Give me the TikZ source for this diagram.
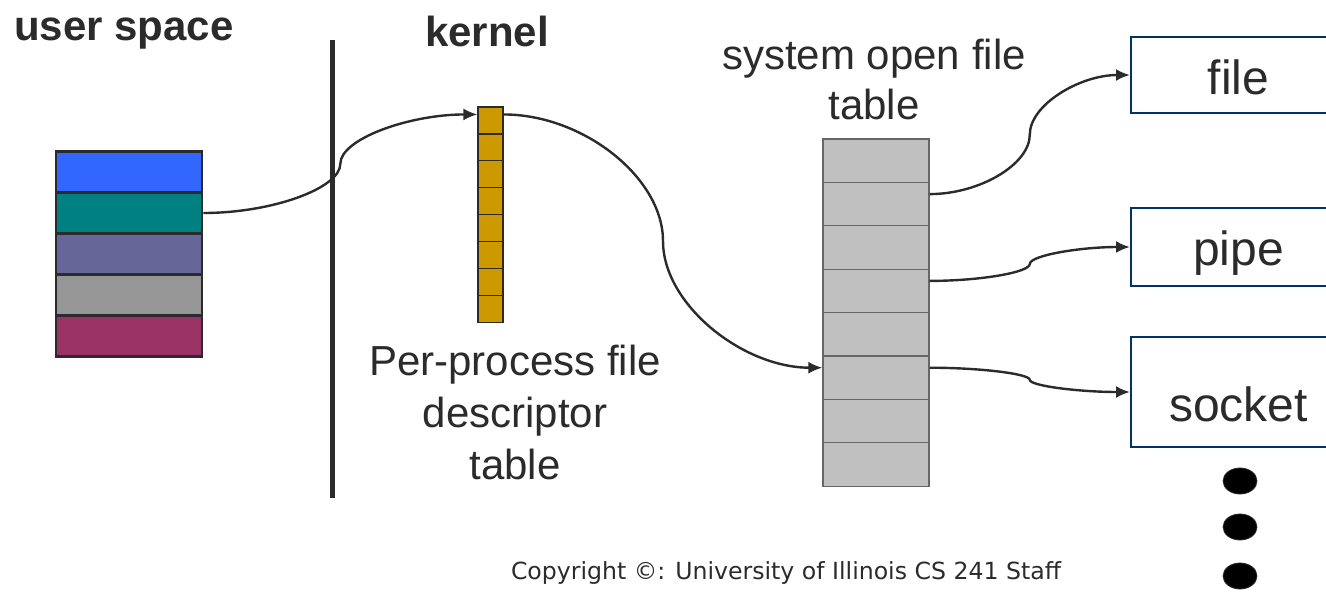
\documentclass[tikz,border=0pt]{standalone}
\usepackage{fontspec}
\setmainfont{Liberation Sans}
\newfontfamily\copyfont{DejaVu Sans}
\usetikzlibrary{arrows.meta,calc}

\definecolor{ublue}{HTML}{3366FF}
\definecolor{uteal}{HTML}{008080}
\definecolor{uviolet}{HTML}{666699}
\definecolor{ugray}{HTML}{969696}
\definecolor{uplum}{HTML}{993366}
\definecolor{fdgold}{HTML}{CC9900}
\definecolor{ftgray}{HTML}{C0C0C0}
\definecolor{objblue}{HTML}{003366}
\definecolor{ink}{HTML}{2B2B2B}

\tikzset{
  ucell/.style={draw=ink, line width=1.3pt, minimum width=73pt, minimum height=20.5pt, inner sep=0pt},
  fdcell/.style={draw=ink, line width=0.6pt, fill=fdgold, minimum width=12.5pt, minimum height=13.45pt, inner sep=0pt},
  ftcell/.style={draw=gray!80!black, line width=0.6pt, fill=ftgray, minimum width=53pt, minimum height=21.7pt, inner sep=0pt},
  objbox/.style={draw=objblue, line width=1pt, minimum width=107.5pt, inner sep=0pt, font=\fontsize{24}{28}\selectfont, text=ink},
  ptr/.style={draw=ink, line width=1.2pt, -{Latex[length=7pt,width=6pt]}},
  headlbl/.style={font=\bfseries\fontsize{21}{25}\selectfont, text=ink},
  caplbl/.style={font=\fontsize{21}{26}\selectfont, align=center, text=ink}
}

% curved connector: two quarter bends meeting half way
\newcommand\wire[2]{%
  \draw[ptr] let \p1=(#1), \p2=(#2) in
    (\p1) .. controls ({0.75*\x1+0.25*\x2},\y1) and ({0.5*\x1+0.5*\x2},{0.75*\y1+0.25*\y2})
    .. ({0.5*\x1+0.5*\x2},{0.5*\y1+0.5*\y2})
    .. controls ({0.5*\x1+0.5*\x2},{0.25*\y1+0.75*\y2}) and ({0.25*\x1+0.75*\x2},\y2) .. (\p2);}

\begin{document}
\begin{tikzpicture}[x=0.5pt, y=-0.5pt]
\useasboundingbox (0,0) rectangle (1326,595);
\clip (0,0) rectangle (1326,595);

\node[headlbl] (user) at (124,34) {user space};
\node[headlbl] (kern) at (487,31) {kernel};
\draw[ink, line width=2.5pt] (332,40) -- (332,498);

% user side, descriptor table, open file table
\foreach \c [count=\i] in {ublue,uteal,uviolet,ugray,uplum}
  \node[ucell, fill=\c] (u\i) at (129,{172+41*(\i-1)}) {};
\foreach \i in {1,...,8}
  \node[fdcell] (fd\i) at (490.5,{120.45+26.9*(\i-1)}) {};
\foreach \i in {1,...,8}
  \node[ftcell] (ft\i) at (876,{160.7+43.4*(\i-1)}) {};

\node[caplbl] (fdlbl) at (515,412) {Per-process file\\descriptor\\table};
\node[caplbl, font=\fontsize{21}{25}\selectfont] (ftlbl) at (874,79) {system open file\\table};

\node[objbox, minimum height=38pt] (file) at (1238.5,75) {\raisebox{-1pt}[\height][0pt]{file}};
\node[objbox, minimum height=39pt] (pipe) at (1238.5,247) {\raisebox{-3pt}[\height][\depth]{pipe}};
\node[objbox, minimum height=55pt] (sock) at (1238.5,392) {\raisebox{-6pt}[\height][0pt]{socket}};

\wire{u2.east}{[yshift=3pt]fd1.west}
\wire{[yshift=3pt]fd1.east}{[yshift=5pt]ft6.west}
\wire{[yshift=5pt]ft2.east}{file.west}
\wire{[yshift=5pt]ft4.east}{pipe.west}
\wire{[yshift=5pt]ft6.east}{sock.west}

\foreach \y in {481,527,576}
  \filldraw[fill=black, draw=ink] (1240,\y) ellipse [x radius=8.5pt, y radius=6.5pt];

\node[font=\copyfont\fontsize{11.8}{14}\selectfont, text=ink] (copy) at (786,573) {Copyright ©: University of Illinois CS 241 Staff};
\end{tikzpicture}
\end{document}
